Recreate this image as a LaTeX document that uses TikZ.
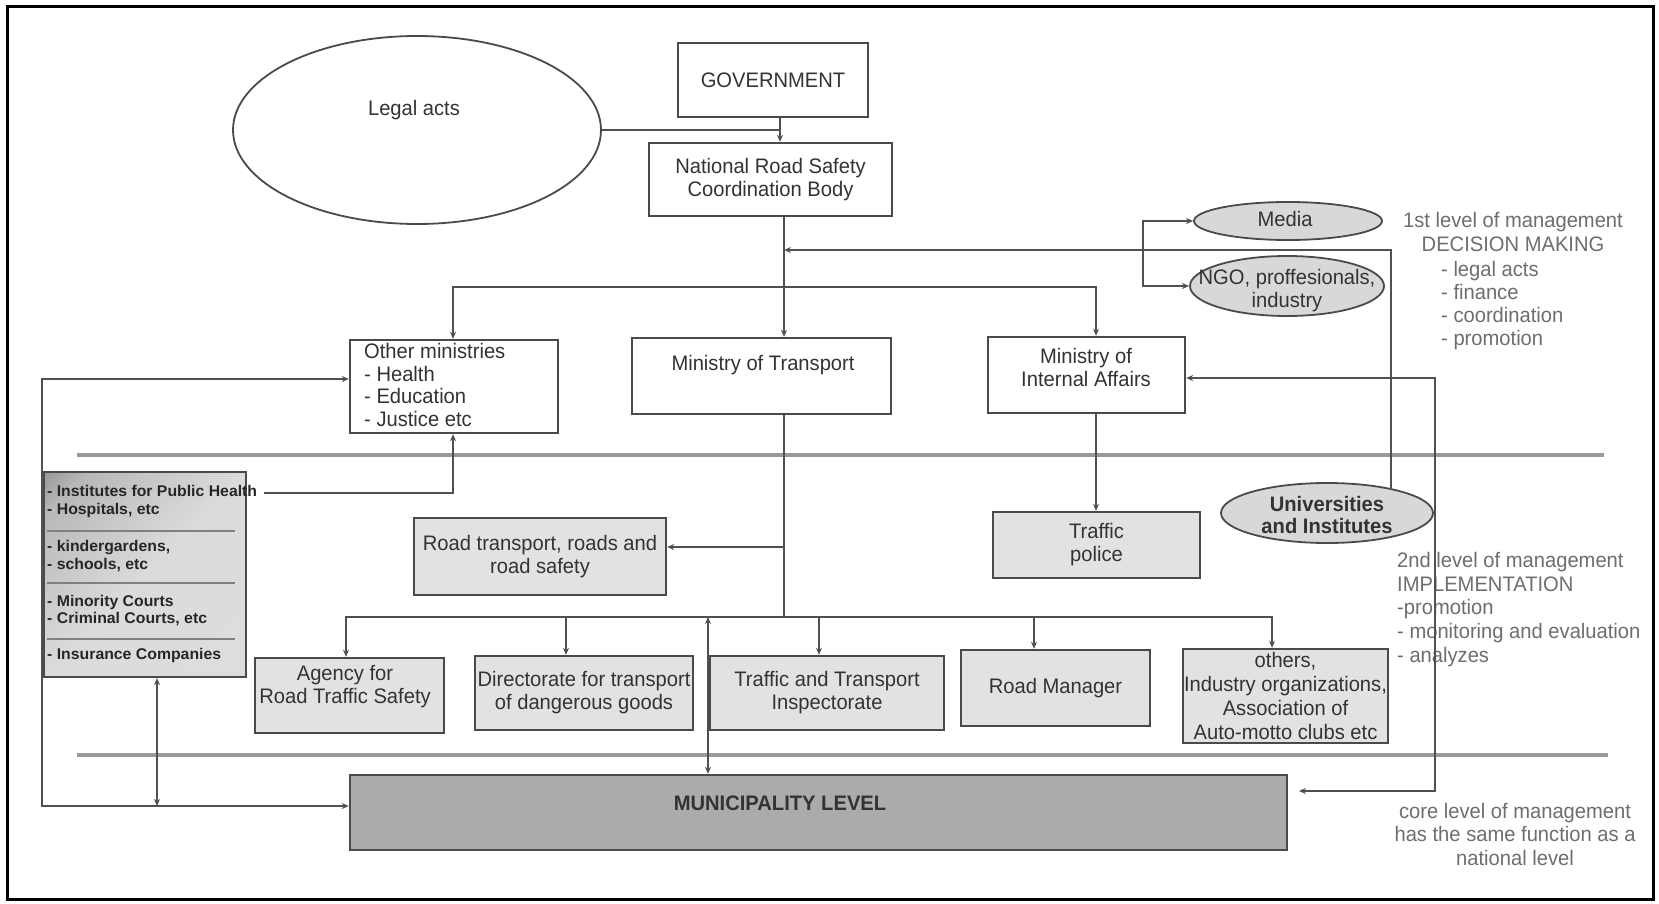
\documentclass[tikz,border=0pt]{standalone}
\usepackage{fontspec}
\setmainfont{Liberation Sans}[FakeStretch=0.96]
\newfontfamily\instfont{Liberation Sans}[FakeStretch=1.02]
\usetikzlibrary{shapes.geometric,arrows.meta,calc}
\definecolor{linec}{HTML}{505050}
\definecolor{boxline}{HTML}{4A4A4A}
\definecolor{txtc}{HTML}{333333}
\definecolor{annc}{HTML}{6E6E6E}
\definecolor{sepc}{HTML}{9A9A9A}
\definecolor{lightfill}{HTML}{E2E2E2}
\definecolor{munifill}{HTML}{ABABAB}
\definecolor{ovalfill}{HTML}{D8D8D8}
\pgfdeclareverticalshading{instshade}{100bp}{color(0bp)=(black!13); color(50bp)=(black!14); color(78bp)=(black!28); color(100bp)=(black!65)}
\begin{document}
\begin{tikzpicture}[x=1pt,y=-1pt,
  every node/.style={text=txtc,font=\fontsize{21}{23}\selectfont},
  box/.style={draw=boxline,line width=2.4pt,fill=white,inner sep=0pt,align=center},
  graybox/.style={box,fill=lightfill},
  oval/.style={ellipse,draw=boxline,line width=1.8pt,inner sep=0pt},
  lbl/.style={inner sep=0pt},
  ann/.style={text=annc,inner sep=0pt},
  insttext/.style={inner sep=0pt,align=left,anchor=west,text=black!85,font=\instfont\bfseries\fontsize{15.5}{17.5}\selectfont},
  plain/.style={draw=linec,line width=1.8pt},
  conn/.style={plain,-{Stealth[length=7pt,width=6pt]}},
  bconn/.style={plain,{Stealth[length=7pt,width=6pt]}-{Stealth[length=7pt,width=6pt]}},
  sep/.style={draw=sepc,line width=4pt},
]
\useasboundingbox (0,0) rectangle (1659,904);
\fill[white] (0,0) rectangle (1659,904);
\draw[black,line width=3pt] (7,7) rectangle (1653,899);

% level separators
\draw[sep] (77,455) -- (1604,455);
\draw[sep] (77,755) -- (1608,755);

% top level
\node[oval,minimum width=368pt,minimum height=188pt] (legal) at (417,130) {};
\node[lbl] (legalT) at (414,110) {Legal acts};
\node[box,minimum width=190pt,minimum height=74pt] (gov) at (773,80) {GOVERNMENT};
\node[box,minimum width=243pt,minimum height=73pt] (nrs) at (770.5,179.5) {National Road Safety\\Coordination Body};

\node[box,minimum width=208pt,minimum height=93pt] (om) at (454,386.5) {};
\node[lbl,anchor=north west,align=left,font=\fontsize{21}{22.7}\selectfont] (omT) at (364,343) {Other ministries\\- Health\\- Education\\- Justice etc};
\node[box,minimum width=259pt,minimum height=76pt] (mot) at (761.5,376) {};
\node[lbl] (motT) at (763,365) {Ministry of Transport};
\node[box,minimum width=197pt,minimum height=76pt] (mia) at (1086.5,375) {};
\node[lbl,align=center] (miaT) at (1086,367) {Ministry of\\Internal Affairs};

\node[oval,fill=ovalfill,minimum width=188pt,minimum height=38pt] (media) at (1288,221) {};
\node[lbl] (mediaT) at (1285,219) {Media};
\node[oval,fill=ovalfill,minimum width=194pt,minimum height=60pt] (ngo) at (1287,286) {};
\node[lbl,align=center] (ngoT) at (1287,291) {NGO, proffesionals,\\industry};

% second level
\node[draw=boxline,line width=2.2pt,shade,shading=instshade,shading angle=45,minimum width=202pt,minimum height=205pt,inner sep=0pt] (inst) at (145,574.5) {};
\draw[draw=black!50,line width=2.5pt] (47,531) -- (235,531);
\draw[draw=black!50,line width=2.5pt] (47,583) -- (235,583);
\draw[draw=black!50,line width=2.5pt] (47,639) -- (235,639);
\node[insttext] (i1) at (47,501.5) {- Institutes for Public Health\\- Hospitals, etc};
\node[insttext] (i2) at (47,556) {- kindergardens,\\- schools, etc};
\node[insttext] (i3) at (47,610.5) {- Minority Courts\\- Criminal Courts, etc};
\node[insttext] (i4) at (47,655) {- Insurance Companies};

\node[graybox,minimum width=252pt,minimum height=77pt] (rt) at (540,556.5) {Road transport, roads and\\road safety};
\node[graybox,minimum width=207pt,minimum height=66pt] (tp) at (1096.5,545) {Traffic\\police};
\node[oval,fill=ovalfill,minimum width=212pt,minimum height=60pt] (univ) at (1327,513) {};
\node[lbl,align=center,font=\bfseries\fontsize{21}{22}\selectfont] (univT) at (1327,515) {Universities\\and Institutes};

\node[graybox,minimum width=189pt,minimum height=75pt] (agency) at (349.5,695.5) {};
\node[lbl,align=center] (agencyT) at (345,686.5) {Agency for\\Road Traffic Safety};
\node[graybox,minimum width=218pt,minimum height=74pt] (dir) at (584,693) {Directorate for transport\\of dangerous goods};
\node[graybox,minimum width=234pt,minimum height=74pt] (insp) at (827,693) {Traffic and Transport\\Inspectorate};
\node[graybox,minimum width=189pt,minimum height=76pt] (rm) at (1055.5,688) {Road Manager};
\node[graybox,minimum width=205pt,minimum height=94pt,font=\fontsize{21}{23.7}\selectfont] (oth) at (1285.5,696) {others,\\Industry organizations,\\Association of\\Auto-motto clubs etc};

% municipality
\node[box,fill=munifill,minimum width=937pt,minimum height=75pt] (muni) at (818.5,812.5) {};
\node[lbl,font=\bfseries\fontsize{21}{23}\selectfont] (muniT) at (780,803) {MUNICIPALITY LEVEL};

% annotations
\node[ann,align=center,font=\fontsize{21}{24}\selectfont] (a1) at (1513,232) {1st level of management\\DECISION MAKING};
\node[ann,align=left,anchor=west] (a2) at (1441,305.5) {- legal acts\\- finance\\- coordination\\- promotion};
\node[ann,align=left,anchor=west,font=\fontsize{21}{23.75}\selectfont] (a3) at (1397,609.5) {2nd level of management\\IMPLEMENTATION\\-promotion\\- monitoring and evaluation\\- analyzes};
\node[ann,align=center,font=\fontsize{21}{23.5}\selectfont] (a4) at (1515,834) {core level of management\\has the same function as a\\national level};

% coordinates
\coordinate (gj) at (780,130);
\coordinate (mx) at (784,0);
\coordinate (t1) at (784,250);
\coordinate (t2) at (784,287);
\coordinate (xom) at (453,0);
\coordinate (xmia) at (1096,0);
\coordinate (bk) at (1143,250);
\coordinate (ij) at (264,493);
\coordinate (lc1) at (42,379);
\coordinate (lc2) at (42,806);
\coordinate (ix) at (157,0);
\coordinate (rj) at (784,547);
\coordinate (bj) at (784,617);
\coordinate (xa) at (346,0);
\coordinate (xd) at (566,0);
\coordinate (xi) at (819,0);
\coordinate (xr) at (1034,0);
\coordinate (xo) at (1272,0);
\coordinate (xm) at (708,0);
\coordinate (rx1) at (1435,378);
\coordinate (rx2) at (1435,791);
\coordinate (me) at (1299,791);

% connectors
\draw[plain] (legal.east) -- (gj);
\draw[conn] (gov.south -| gj) -- (nrs.north -| gj);
\draw[conn] (nrs.south -| mx) -- (mot.north -| mx);
\draw[conn] (t2) -| (om.north -| xom);
\draw[conn] (t2) -| (mia.north -| xmia);
\draw[conn] (univ.21) |- (t1);
\draw[conn] (bk) |- (media.west);
\draw[conn] (bk) |- (ngo.west);
\draw[conn] (ij) -| (om.south -| xom);
\draw[bconn] (om.west |- lc1) -- (lc1) -- (lc2) -- (muni.west |- lc2);
\draw[bconn] (inst.south -| ix) -- (lc2 -| ix);
\draw[plain] (mot.south -| mx) -- (bj);
\draw[conn] (rj) -- (rt.east |- rj);
\draw[conn] (bj) -| (agency.north -| xa);
\draw[conn] (bj) -| (dir.north -| xd);
\draw[conn] (bj) -| (insp.north -| xi);
\draw[conn] (bj) -| (rm.north -| xr);
\draw[conn] (bj) -| (oth.north -| xo);
\draw[bconn] (bj -| xm) -- (muni.north -| xm);
\draw[conn] (mia.south -| xmia) -- (tp.north -| xmia);
\draw[bconn] (mia.east |- rx1) -- (rx1) -- (rx2) -- (me);
\end{tikzpicture}
\end{document}
